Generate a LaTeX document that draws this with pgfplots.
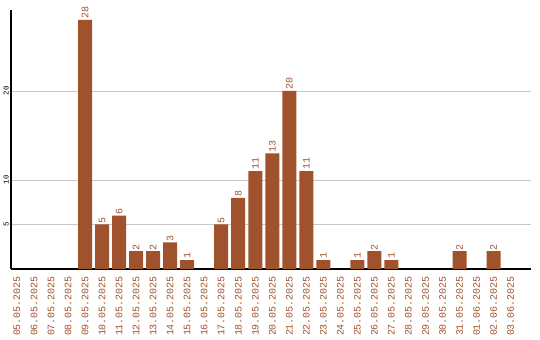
\documentclass[border=0pt]{standalone}
\usepackage{pgfplots}
\pgfplotsset{compat=1.18}
\usepackage{fontspec}
\setmainfont{Liberation Mono}
\definecolor{barc}{HTML}{A0522D}
\definecolor{gridc}{HTML}{C8C8C8}
\begin{document}
\begin{tikzpicture}
\begin{axis}[
  scale only axis,
  width=520bp, height=259bp,
  xmin=-0.35, xmax=30.2,
  ymin=0, ymax=29.1,
  axis x line=bottom, axis y line=left,
  axis line style={-, line width=1.3bp, black},
  ytick={5,10,20},
  xtick={0,...,29},
  xticklabels={05.05.2025,06.05.2025,07.05.2025,08.05.2025,09.05.2025,10.05.2025,11.05.2025,12.05.2025,13.05.2025,14.05.2025,15.05.2025,16.05.2025,17.05.2025,18.05.2025,19.05.2025,20.05.2025,21.05.2025,22.05.2025,23.05.2025,24.05.2025,25.05.2025,26.05.2025,27.05.2025,28.05.2025,29.05.2025,30.05.2025,31.05.2025,01.06.2025,02.06.2025,03.06.2025},
  major tick length=0pt,
  ymajorgrids,
  grid style={gridc, line width=0.8bp},
  xticklabel style={rotate=90, anchor=east, text=barc, font=\fontsize{10}{10}\selectfont, inner sep=0pt},
  yticklabel style={rotate=90, anchor=south, text=black, font=\fontsize{7.5}{8}\selectfont, inner sep=0pt},
  xtick pos=bottom,
  xticklabel shift=7bp,
  yticklabel shift=2bp,
  /pgf/number format/assume math mode=true,
  ybar, bar width=14bp,
  nodes near coords,
  every node near coord/.append style={rotate=90, anchor=west, text=barc, font=\fontsize{10}{10}\selectfont, inner sep=1bp},
  clip=false,
]
\addplot[fill=barc, draw=none] coordinates {
(4,28) (5,5) (6,6) (7,2) (8,2) (9,3) (10,1)
(12,5) (13,8) (14,11) (15,13) (16,20) (17,11) (18,1)
(20,1) (21,2) (22,1) (26,2) (28,2)
};
\end{axis}
\pgfresetboundingbox
\path (current axis.south west) ++(-11bp,-71bp) rectangle ++(540bp,340bp);
\end{tikzpicture}
\end{document}
